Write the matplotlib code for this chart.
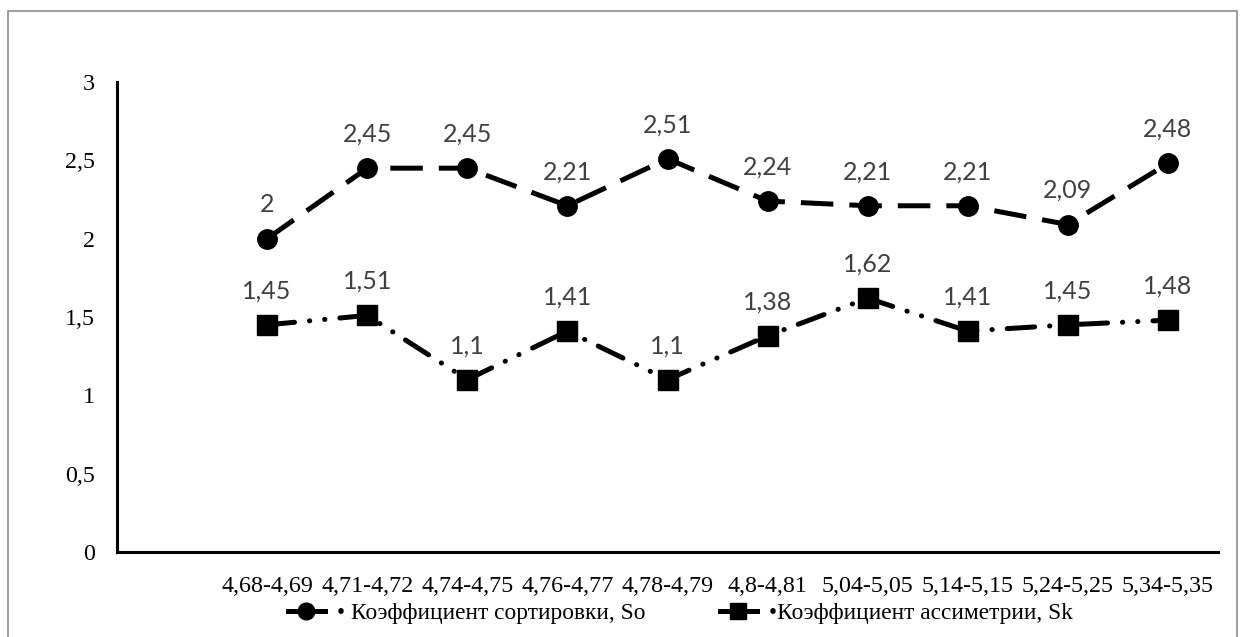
import matplotlib.pyplot as plt
from matplotlib.lines import Line2D
from matplotlib.patches import Rectangle

categories = ['', '4,68-4,69', '4,71-4,72', '4,74-4,75', '4,76-4,77', '4,78-4,79',
              '4,8-4,81', '5,04-5,05', '5,14-5,15', '5,24-5,25', '5,34-5,35']
so_values = [2, 2.45, 2.45, 2.21, 2.51, 2.24, 2.21, 2.21, 2.09, 2.48]
sk_values = [1.45, 1.51, 1.1, 1.41, 1.1, 1.38, 1.62, 1.41, 1.45, 1.48]
y_ticks = [0, 0.5, 1, 1.5, 2, 2.5, 3]
so_label = '• Коэффициент сортировки, So'
sk_label = '•Коэффициент ассиметрии, Sk'

serif = 'Liberation Serif'
label_font = 'Lato'


def fmt(v):
    return ('%g' % v).replace('.', ',')


fig = plt.figure(figsize=(12.41, 6.37), dpi=100)
# outer chart border
fig.patches.append(Rectangle((8 / 1241, -0.02), 1229 / 1241, 1 - 11 / 637 + 0.02,
                             transform=fig.transFigure, fill=False,
                             edgecolor='#8c8c8c', linewidth=1.2))

ax = fig.add_axes([117 / 1241, 1 - 552 / 637, (1218 - 117) / 1241, (552 - 82) / 637])

x = list(range(1, len(categories)))
lw = 3.6

ax.plot(x, so_values, color='black', linewidth=lw, dashes=(6.5, 3.2),
        marker='o', markersize=14, zorder=3)
ax.plot(x, sk_values, color='black', linewidth=lw,
        dashes=(5.5, 3.0, 0.05, 3.0, 0.05, 3.0), dash_capstyle='round',
        marker='s', markersize=14, zorder=3)

for xi, v in zip(x, so_values):
    ax.annotate(fmt(v), (xi, v), xytext=(0, 34), textcoords='offset pixels',
                ha='center', va='center', fontsize=18, color='#404040',
                family=label_font)
for xi, v in zip(x, sk_values):
    ax.annotate(fmt(v), (xi, v), xytext=(0, 34), textcoords='offset pixels',
                ha='center', va='center', fontsize=18, color='#404040',
                family=label_font)

ax.set_xlim(-0.5, len(categories) - 0.5)
ax.set_ylim(0, 3)
ax.set_xticks(range(len(categories)))
ax.set_xticklabels(categories, family=serif, fontsize=17.3)
ax.set_yticks(y_ticks)
ax.set_yticklabels([fmt(t) for t in y_ticks], family=serif, fontsize=17.3)
ax.tick_params(axis='both', length=0)
ax.tick_params(axis='x', pad=17)
ax.tick_params(axis='y', pad=16)

for s in ['top', 'right']:
    ax.spines[s].set_visible(False)
for s in ['left', 'bottom']:
    ax.spines[s].set_linewidth(2.2)
    ax.spines[s].set_color('black')

handles = [
    Line2D([], [], color='black', linewidth=lw, marker='o', markersize=12),
    Line2D([], [], color='black', linewidth=lw, marker='s', markersize=12),
]
fig.legend(handles, [so_label, sk_label], loc='center', bbox_to_anchor=(0.548, 1 - 613 / 637),
           ncol=2, frameon=False, prop={'family': serif, 'size': 16.8},
           handlelength=1.6, columnspacing=3.2, handletextpad=0.5)

fig.savefig('out.png', dpi=100)
